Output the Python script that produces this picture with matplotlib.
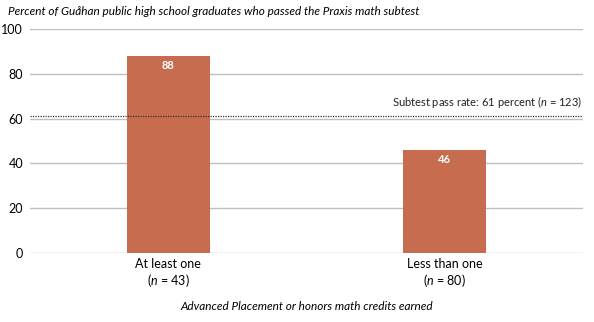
import matplotlib
matplotlib.use("Agg")
import matplotlib.pyplot as plt

categories = ["At least one\n($n$ = 43)", "Less than one\n($n$ = 80)"]
values = [88, 46]
pass_rate = 61
yticks = [0, 20, 40, 60, 80, 100]

plt.rcParams['font.family'] = ['Lato', 'DejaVu Sans']
plt.rcParams['mathtext.fontset'] = 'custom'
plt.rcParams['mathtext.it'] = 'Lato:italic'

fig = plt.figure(figsize=(5.94, 3.22), dpi=100)
ax = fig.add_axes([0.0505, 0.2143, 0.9305, 0.6957])

x = range(len(values))
ax.bar(x, values, width=0.3, color="#C76C4E", zorder=3)
for xi, v in zip(x, values):
    ax.annotate(str(v), (xi, v), xytext=(0, -7), textcoords="offset points",
                ha="center", va="center", color="white", fontweight="bold", fontsize=8, zorder=4)

ax.axhline(pass_rate, color="#333333", linestyle=(0, (1, 1)), linewidth=0.9, zorder=4)
ax.text(1.5, pass_rate + 3, "Subtest pass rate: 61 percent ($n$ = 123)", ha="right", va="bottom",
        fontsize=8, color="#222222")

ax.set_xlim(-0.5, 1.5)
ax.set_ylim(0, 100)
ax.set_yticks(yticks)
ax.set_xticks(list(x))
ax.set_xticklabels(categories, fontsize=8.5)
ax.tick_params(axis="both", length=0, labelsize=9)
ax.tick_params(axis="y", pad=5)
ax.grid(axis="y", color="#BFBFBF", linewidth=1, zorder=0)
for s in ax.spines.values():
    s.set_visible(False)

ax.set_xlabel("Advanced Placement or honors math credits earned", style="italic", fontsize=8.5, labelpad=8)
fig.text(0.013, 0.965, "Percent of Guåhan public high school graduates who passed the Praxis math subtest",
         style="italic", fontsize=8.5, ha="left", va="center")

fig.savefig("out.png", dpi=100)
